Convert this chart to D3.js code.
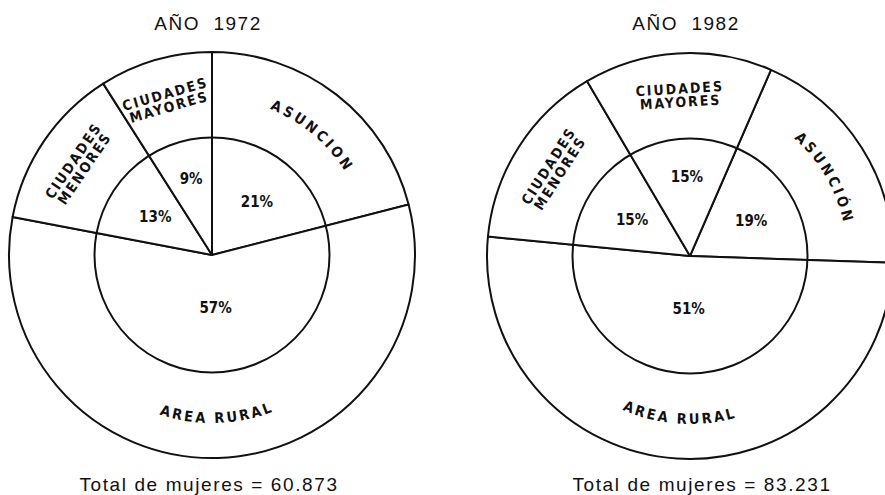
<!DOCTYPE html>
<html>
<head>
<meta charset="utf-8">
<script src="https://cdn.jsdelivr.net/npm/d3@7"></script>
<style>
    body { margin: 0; background: #fff; }
    svg { display: block; }
    .title, .total { font-family: "Liberation Sans", Arial, sans-serif; fill: #111; }
    .pct, .zone { font-family: "DejaVu Sans Condensed", "DejaVu Sans", sans-serif; font-weight: bold; fill: #111; }
</style>
</head>
<body>
<div id="chart"></div>
<script>
// data
var years = ["AÑO  1972", "AÑO  1982"];
var categories1972 = ["ASUNCION", "AREA RURAL", "CIUDADES MENORES", "CIUDADES MAYORES"];
var categories1982 = ["ASUNCIÓN", "AREA RURAL", "CIUDADES MENORES", "CIUDADES MAYORES"];
var pct1972 = [21, 57, 13, 9];
var pct1982 = [19, 51, 15, 15];
var totals = ["60.873", "83.231"];

var width = 885,
    height = 495,
    outerR = 203,
    innerR = 117.5;

var svg = d3.select("#chart")
    .append("svg")
    .attr("width", width)
    .attr("height", height);

// where each percent label sits inside the inner circle
var pctRadius = { "ASUNCION": 70, "ASUNCIÓN": 70, "AREA RURAL": 51, "CIUDADES MENORES": 71, "CIUDADES MAYORES": 82 };
var curved = ["ASUNCION", "ASUNCIÓN", "AREA RURAL"];

var charts = [
    { cx: 212, cy: 255, start: 0, names: categories1972, values: pct1972, year: years[0], total: totals[0] },
    { cx: 690, cy: 256, start: 23.5, names: categories1982, values: pct1982, year: years[1], total: totals[1] }
];

function pt(r, a) {
    return [r * Math.sin(a), -r * Math.cos(a)];
}

charts.forEach(function (c, ci) {

    var rows = c.values.map(function (v, i) { return { name: c.names[i], value: v }; });
    var s0 = c.start * Math.PI / 180;

    var pie = d3.pie()
        .sort(null)
        .value(function (d) { return d.value; })
        .startAngle(s0)
        .endAngle(s0 + 2 * Math.PI);

    var arcs = pie(rows);

    var arc = d3.arc().innerRadius(0).outerRadius(outerR);

    var g = svg.append("g")
        .attr("transform", "translate(" + c.cx + "," + c.cy + ")");

    // wedges
    g.selectAll(".slice")
        .data(arcs)
        .enter().append("path")
        .attr("class", "slice")
        .attr("d", arc)
        .attr("fill", "#fff")
        .attr("stroke", "#111")
        .attr("stroke-width", 2)
        .attr("stroke-linejoin", "round");

    // inner ring
    g.append("circle")
        .attr("r", innerR)
        .attr("fill", "none")
        .attr("stroke", "#111")
        .attr("stroke-width", 2);

    // percentages
    g.selectAll(".pct")
        .data(arcs)
        .enter().append("text")
        .attr("class", "pct")
        .attr("font-size", 15)
        .attr("text-anchor", "middle")
        .attr("dy", "0.36em")
        .attr("transform", function (d) {
            var a = (d.startAngle + d.endAngle) / 2;
            var p = pt(pctRadius[d.data.name], a);
            return "translate(" + (p[0] + 2) + "," + (p[1] + 2) + ")";
        })
        .text(function (d) { return d.data.value + "%"; });

    // zone names in the outer ring
    arcs.forEach(function (d, i) {
        var a = (d.startAngle + d.endAngle) / 2;
        var deg = a * 180 / Math.PI;

        if (curved.indexOf(d.data.name) >= 0) {
            var bottom = Math.cos(a) < 0;
            var r = bottom ? 168 : 157;
            var shift = bottom ? 0 : 0.04;
            var span = 0.6;
            var p1 = pt(r, a + shift - span), p2 = pt(r, a + shift + span);
            var dpath = bottom
                ? "M" + p2[0] + "," + p2[1] + " A" + r + "," + r + " 0 0 0 " + p1[0] + "," + p1[1]
                : "M" + p1[0] + "," + p1[1] + " A" + r + "," + r + " 0 0 1 " + p2[0] + "," + p2[1];
            var id = "lab" + ci + "_" + i;

            g.append("path")
                .attr("id", id)
                .attr("d", dpath)
                .attr("fill", "none");

            g.append("text")
                .attr("class", "zone")
                .attr("font-size", 14.5)
                .attr("letter-spacing", bottom ? 2.5 : 3)
                .append("textPath")
                .attr("href", "#" + id)
                .attr("startOffset", "50%")
                .attr("text-anchor", "middle")
                .text(d.data.name);
        } else {
            var p = pt(161, a);
            var words = d.data.name.split(" ");
            var t = g.append("text")
                .attr("class", "zone")
                .attr("font-size", 14)
                .attr("letter-spacing", 2)
                .attr("text-anchor", "middle")
                .attr("transform", "translate(" + p[0] + "," + p[1] + ") rotate(" + deg + ")");
            words.forEach(function (w, k) {
                t.append("tspan")
                    .attr("x", 0)
                    .attr("y", (k - 0.5) * 13.5 + 5)
                    .text(w);
            });
        }
    });

    // title and total
    svg.append("text")
        .attr("class", "title")
        .attr("x", c.cx - 4)
        .attr("y", 30)
        .attr("text-anchor", "middle")
        .attr("font-size", 19)
        .attr("letter-spacing", 1.5)
        .attr("xml:space", "preserve")
        .style("white-space", "pre")
        .text(c.year);

    svg.append("text")
        .attr("class", "total")
        .attr("x", c.cx + (ci === 0 ? -3 : 12))
        .attr("y", 491)
        .attr("text-anchor", "middle")
        .attr("font-size", 19)
        .attr("letter-spacing", 1.6)
        .text("Total de mujeres = " + c.total);
});
</script>
</body>
</html>
